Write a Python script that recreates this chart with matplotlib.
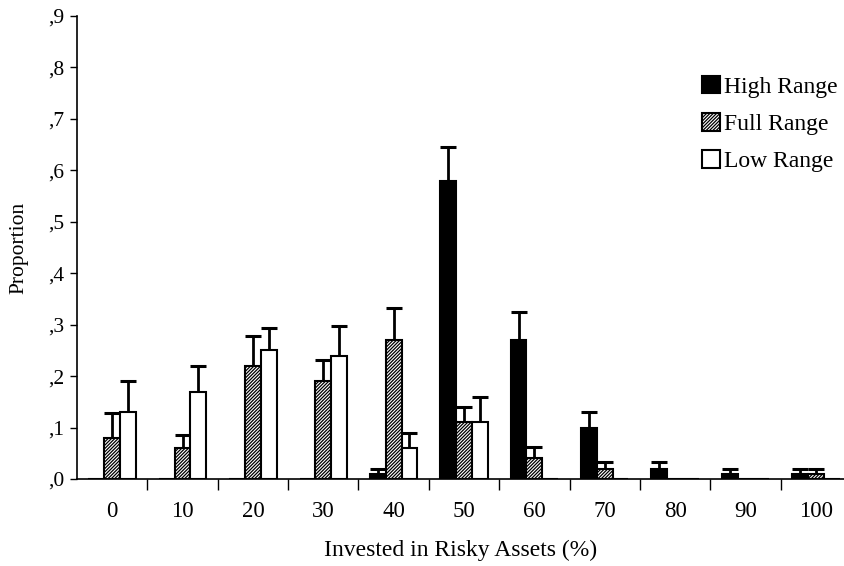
import matplotlib
matplotlib.use("Agg")
import matplotlib.pyplot as plt
import numpy as np

categories = ["0", "10", "20", "30", "40", "50", "60", "70", "80", "90", "100"]
high = [0, 0, 0, 0, 0.01, 0.58, 0.27, 0.10, 0.02, 0.01, 0.01]
high_err = [0, 0, 0, 0, 0.01, 0.065, 0.055, 0.03, 0.013, 0.01, 0.01]
full = [0.08, 0.06, 0.22, 0.19, 0.27, 0.11, 0.04, 0.02, 0, 0, 0.01]
full_err = [0.048, 0.025, 0.057, 0.042, 0.062, 0.03, 0.023, 0.013, 0, 0, 0.01]
low = [0.13, 0.17, 0.25, 0.24, 0.06, 0.11, 0, 0, 0, 0, 0]
low_err = [0.06, 0.05, 0.043, 0.057, 0.03, 0.05, 0, 0, 0, 0, 0]
yticks = [0, 0.1, 0.2, 0.3, 0.4, 0.5, 0.6, 0.7, 0.8, 0.9]
ytick_labels = [",0", ",1", ",2", ",3", ",4", ",5", ",6", ",7", ",8", ",9"]

plt.rcParams['font.family'] = ['Liberation Serif', 'DejaVu Serif']
plt.rcParams['hatch.linewidth'] = 0.9

fig = plt.figure(figsize=(8.44, 5.66), dpi=100)
ax = fig.add_axes([77/844, 1 - 479/566, (844 - 77)/844, (479 - 16)/566])

x = np.arange(len(categories))
w = 0.225

def draw(vals, errs, off, **kw):
    vals = np.array(vals)
    errs = np.array(errs)
    ax.bar(x + off, vals, w, edgecolor='black', linewidth=1.5, zorder=3, **kw)
    m = errs > 0
    xs = (x + off)[m]
    ax.vlines(xs, vals[m], vals[m] + errs[m], colors='black', linewidth=2, zorder=2)
    ax.plot(xs, vals[m] + errs[m], linestyle='none', marker='_', markersize=11,
            markeredgewidth=2.2, color='black', zorder=2)

draw(high, high_err, -w, color='black', label='High Range')
draw(full, full_err, 0, facecolor='white', hatch='//////////', label='Full Range')
draw(low, low_err, w, facecolor='white', label='Low Range')

ax.set_ylim(0, 0.9)
ax.set_xlim(-0.5, 10.5 - 7/70.4)
ax.set_yticks(yticks)
ax.set_yticklabels(ytick_labels, fontsize=15.5)
ax.set_xticks(x)
ax.set_xticklabels(categories, fontsize=16.5)
ax.set_xticks(np.arange(0.5, 10.5, 1), minor=True)
ax.tick_params(axis='x', which='major', length=0, pad=16)
ax.tick_params(axis='x', which='minor', length=8, width=1, direction='out')
ax.tick_params(axis='y', length=5, width=1, direction='out', pad=4)
for s in ['top', 'right']:
    ax.spines[s].set_visible(False)
ax.spines['left'].set_linewidth(1.2)
ax.spines['bottom'].set_linewidth(1.2)

ax.set_xlabel("Invested in Risky Assets (%)", fontsize=17, labelpad=13)
ax.set_ylabel("Proportion", fontsize=15.5, labelpad=14)

leg = ax.legend(loc='upper left', frameon=False,
                fontsize=17, handlelength=0.75, handleheight=0.75, handletextpad=0.2,
                labelspacing=0.65, borderaxespad=0, borderpad=0)
leg.set_bbox_to_anchor((702/844, 1 - 76/566), transform=fig.transFigure)

fig.savefig("out.png", dpi=100)
